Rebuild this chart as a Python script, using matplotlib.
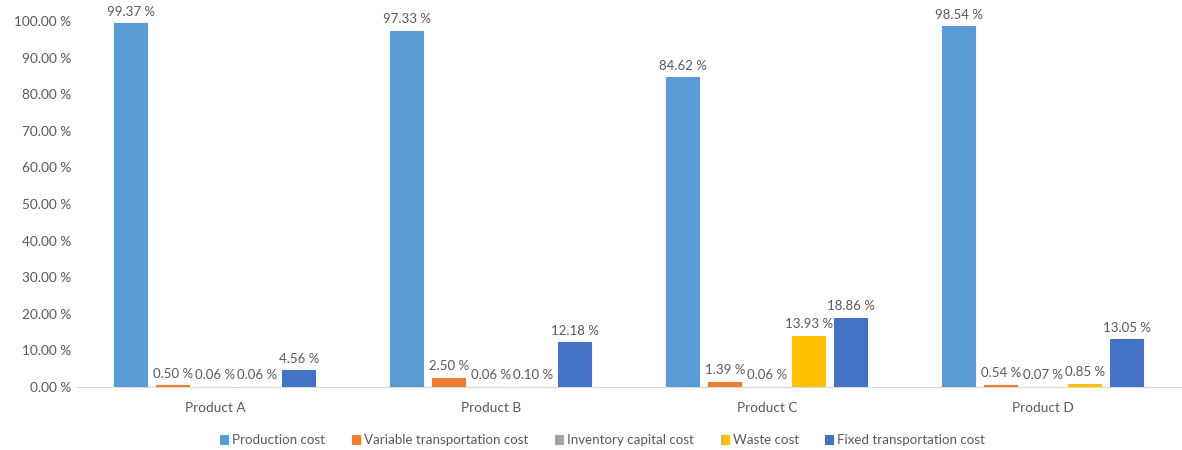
import matplotlib
matplotlib.use("Agg")
import matplotlib.pyplot as plt
import numpy as np

products = ["Product A", "Product B", "Product C", "Product D"]
series_names = [
    "Production cost",
    "Variable transportation cost",
    "Inventory capital cost",
    "Waste cost",
    "Fixed transportation cost",
]
production_cost = [99.37, 97.33, 84.62, 98.54]
variable_transport_cost = [0.50, 2.50, 1.39, 0.54]
inventory_capital_cost = [0.06, 0.06, 0.06, 0.07]
waste_cost = [0.06, 0.10, 13.93, 0.85]
fixed_transport_cost = [4.56, 12.18, 18.86, 13.05]
y_ticks = [0, 10, 20, 30, 40, 50, 60, 70, 80, 90, 100]

series_values = [
    production_cost,
    variable_transport_cost,
    inventory_capital_cost,
    waste_cost,
    fixed_transport_cost,
]
colors = ["#5B9BD5", "#ED7D31", "#A5A5A5", "#FFC000", "#4472C4"]

plt.rcParams["font.family"] = ["Lato", "DejaVu Sans"]
text_color = "#595959"

fig = plt.figure(figsize=(11.82, 4.5), dpi=100)
ax = fig.add_axes([0.065, 0.14, 0.934, 0.813])

x = np.arange(len(products))
pitch = 0.152
bar_w = 0.12
offsets = (np.arange(len(series_names)) - 2) * pitch

for vals, name, col, off in zip(series_values, series_names, colors, offsets):
    bars = ax.bar(x + off, vals, width=bar_w, color=col, edgecolor=col,
                  linewidth=0.8, label=name, zorder=3)
    for b, v in zip(bars, vals):
        ax.annotate(f"{v:.2f} %", (b.get_x() + b.get_width() / 2, v),
                    xytext=(0, 4), textcoords="offset points",
                    ha="center", va="bottom", fontsize=9.5,
                    color=text_color, annotation_clip=False)

ax.set_xlim(-0.5, len(products) - 0.5)
ax.set_ylim(0, 100)
ax.set_yticks(y_ticks)
ax.set_yticklabels([f"{t:.2f} %" for t in y_ticks])
ax.set_xticks(x)
ax.set_xticklabels(products)

for s in ["top", "right", "left"]:
    ax.spines[s].set_visible(False)
ax.spines["bottom"].set_color("#D9D9D9")
ax.spines["bottom"].set_zorder(2)
ax.tick_params(axis="both", length=0, colors=text_color, labelsize=9.8)
ax.tick_params(axis="x", pad=11)
ax.tick_params(axis="y", pad=4)

fig.legend(loc="lower center", bbox_to_anchor=(0.51, -0.018), ncol=5,
           frameon=False, fontsize=9.6, labelcolor=text_color,
           handlelength=0.6, handleheight=0.6, handletextpad=0.3,
           columnspacing=2.0)

fig.savefig("out.png", dpi=100)
